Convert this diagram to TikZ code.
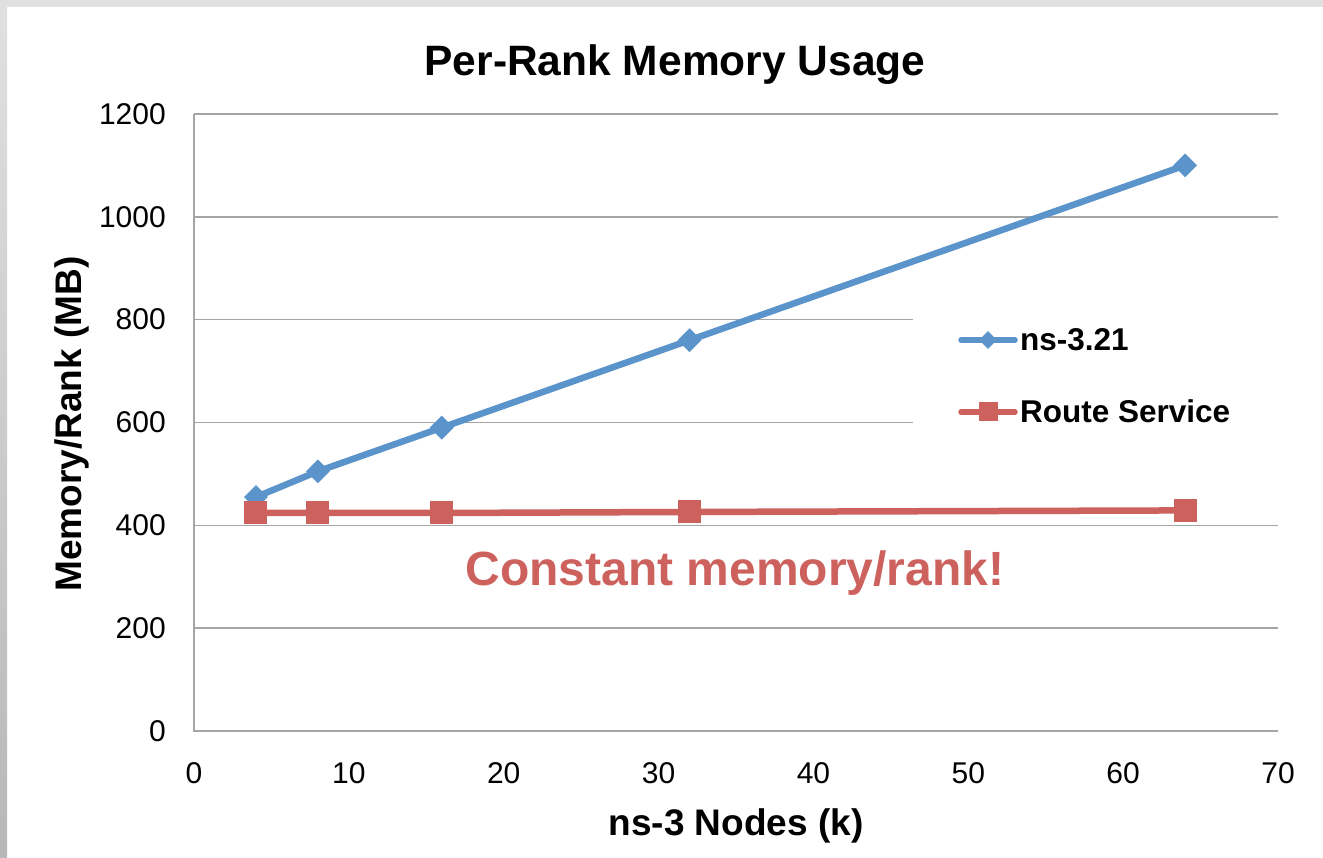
\documentclass[tikz,border=0pt]{standalone}
\usepackage{fontspec}
\setmainfont{Liberation Sans}
\usetikzlibrary{shapes.geometric}
\definecolor{serblue}{RGB}{91,148,202}
\definecolor{serred}{RGB}{205,97,93}
\definecolor{gridgray}{RGB}{165,165,165}
\definecolor{framegray}{RGB}{224,224,224}
\begin{document}
\begin{tikzpicture}[x=1pt,y=-1pt,
  gridline/.style={draw=gridgray,line width=1.5pt},
  ticklab/.style={font=\fontsize{30}{30}\selectfont,inner sep=0pt},
  axtitle/.style={font=\fontsize{37}{37}\selectfont\bfseries,inner sep=0pt},
  blueline/.style={draw=serblue,line width=6.5pt,line join=round,line cap=round},
  redline/.style={draw=serred,line width=6.5pt,line join=round,line cap=round},
  bluemark/.style={diamond,fill=serblue,draw=none,minimum width=24pt,minimum height=24pt,inner sep=0pt},
  redmark/.style={rectangle,fill=serred,draw=none,minimum size=23pt,inner sep=0pt},
  legtext/.style={font=\fontsize{31.5}{31.5}\selectfont\bfseries,inner sep=0pt,anchor=base west}]
\useasboundingbox (0,0) rectangle (1323,858);
\fill[white] (0,0) rectangle (1323,858);
\fill[framegray] (0,0) rectangle (1323,7);
\shade[top color=framegray,bottom color=black!28] (0,7) rectangle (7,858);
% gridlines
\foreach \v in {200,400,1000,1200} {
  \draw[gridline] (194,{731-0.51417*\v}) -- (1278,{731-0.51417*\v});
}
\foreach \v in {600,800} {
  \draw[gridline] (194,{731-0.51417*\v}) -- (913,{731-0.51417*\v});
}
% axes
\draw[gridline] (194,114) -- (194,731) -- (1278,731);
% y tick labels
\foreach \v in {0,200,400,600,800,1000,1200} {
  \node[ticklab,anchor=east] (yl\v) at (166,{731-0.51417*\v}) {\v};
}
% x tick labels
\foreach \v in {0,10,20,30,40,50,60,70} {
  \node[ticklab,anchor=base] (xl\v) at ({194+15.486*\v},783) {\v};
}
% titles
\node[font=\fontsize{42.5}{42.5}\selectfont\bfseries,inner sep=0pt,anchor=base] (title) at (675,76) {Per-Rank Memory Usage};
\node[axtitle,anchor=base] (xtitle) at (736,835) {ns-3 Nodes (k)};
\node[axtitle,anchor=base,rotate=90] (ytitle) at (81,424) {Memory/Rank (MB)};
% data coordinates
\coordinate (b1) at ({194+15.486*4},{731-0.51417*455});
\coordinate (b2) at ({194+15.486*8},{731-0.51417*505});
\coordinate (b3) at ({194+15.486*16},{731-0.51417*590});
\coordinate (b4) at ({194+15.486*32},{731-0.51417*760});
\coordinate (b5) at ({194+15.486*64},{731-0.51417*1100});
\coordinate (r1) at ({194+15.486*4},{731-0.51417*424});
\coordinate (r2) at ({194+15.486*8},{731-0.51417*424});
\coordinate (r3) at ({194+15.486*16},{731-0.51417*424});
\coordinate (r4) at ({194+15.486*32},{731-0.51417*426});
\coordinate (r5) at ({194+15.486*64},{731-0.51417*429});
% blue series
\draw[blueline] (b1) -- (b2) -- (b3) -- (b4) -- (b5);
\foreach \i in {1,...,5} { \node[bluemark] (bm\i) at (b\i) {}; }
% red series
\draw[redline] (r1) -- (r2) -- (r3) -- (r4) -- (r5);
\foreach \i in {1,...,5} { \node[redmark] (rm\i) at (r\i) {}; }
% legend
\coordinate (lb1) at (961,340);
\coordinate (lb2) at (1015,340);
\draw[blueline,line width=5.5pt] (lb1) -- (lb2);
\node[bluemark,minimum width=18pt,minimum height=18pt] (lbm) at (988,340) {};
\node[legtext] (leg1) at (1020,351) {ns-3.21};
\coordinate (lr1) at (961,412);
\coordinate (lr2) at (1015,412);
\draw[redline,line width=5.5pt] (lr1) -- (lr2);
\node[redmark,minimum size=19pt] (lrm) at (988,412) {};
\node[legtext] (leg2) at (1020,423) {Route Service};
% annotation
\node[font=\fontsize{48}{48}\selectfont\bfseries,text=serred,inner sep=0pt,anchor=base] (note) at (735,585) {Constant memory/rank!};
\end{tikzpicture}
\end{document}
